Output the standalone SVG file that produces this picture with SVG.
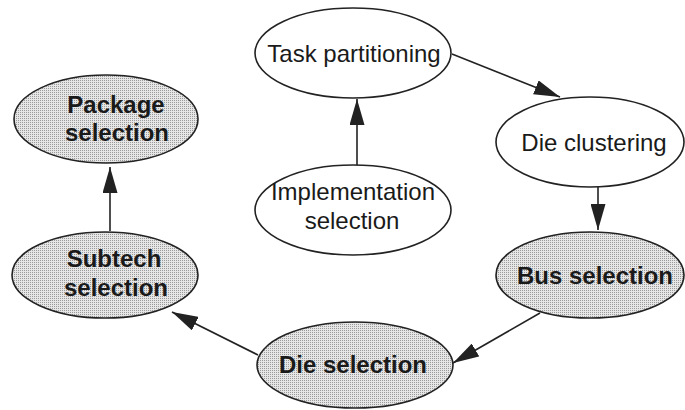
<svg xmlns="http://www.w3.org/2000/svg" width="685" height="410" viewBox="0 0 685 410">
<defs>
<pattern id="stip" width="2" height="2" patternUnits="userSpaceOnUse">
<rect width="2" height="2" fill="#e6e6e6"/>
<rect width="1" height="1" fill="#9a9a9a"/>
</pattern>
<marker id="ah" markerUnits="userSpaceOnUse" markerWidth="26" markerHeight="15" refX="26" refY="7.5" orient="auto">
<path d="M0,0 L26,7.5 L0,15 z" fill="#222"/>
</marker>
<style>
.plain{fill:#fff;stroke:#222;stroke-width:1.6}
.shade{fill:url(#stip);stroke:#222;stroke-width:1.6}
.t{font-family:"Liberation Sans",Arial,sans-serif;font-size:24px;fill:#1a1a1a;text-anchor:middle}
.b{font-weight:bold}
.c{stroke:#222;stroke-width:1.6;fill:none;marker-end:url(#ah)}
</style>
</defs>
<rect width="685" height="410" fill="#fff"/>
<g id="connectors">
<line class="c" x1="357" y1="165" x2="357" y2="99"/>
<line class="c" x1="452" y1="54" x2="560" y2="97"/>
<line class="c" x1="598" y1="187" x2="598" y2="230"/>
<line class="c" x1="540" y1="313" x2="453" y2="363"/>
<line class="c" x1="258" y1="355" x2="172" y2="312"/>
<line class="c" x1="110" y1="231" x2="110" y2="167"/>
</g>
<g id="package">
<ellipse class="shade" cx="106" cy="119" rx="92" ry="44"/>
<text class="t b" x="116" y="113">Package</text>
<text class="t b" x="117" y="141">selection</text>
</g>
<g id="subtech">
<ellipse class="shade" cx="105" cy="275" rx="93" ry="43"/>
<text class="t b" x="114" y="267">Subtech</text>
<text class="t b" x="116" y="296">selection</text>
</g>
<g id="task">
<ellipse class="plain" cx="353" cy="53" rx="98" ry="45"/>
<text class="t" x="354" y="62">Task partitioning</text>
</g>
<g id="impl">
<ellipse class="plain" cx="353" cy="210" rx="98" ry="45"/>
<text class="t" x="353" y="200">Implementation</text>
<text class="t" x="352" y="229">selection</text>
</g>
<g id="dieclust">
<ellipse class="plain" cx="590" cy="142" rx="94" ry="45"/>
<text class="t" x="594" y="151">Die clustering</text>
</g>
<g id="bus">
<ellipse class="shade" cx="590" cy="275" rx="94" ry="43"/>
<text class="t b" x="595" y="284">Bus selection</text>
</g>
<g id="diesel">
<ellipse class="shade" cx="355" cy="365" rx="98" ry="43"/>
<text class="t b" x="353" y="373">Die selection</text>
</g>
</svg>
